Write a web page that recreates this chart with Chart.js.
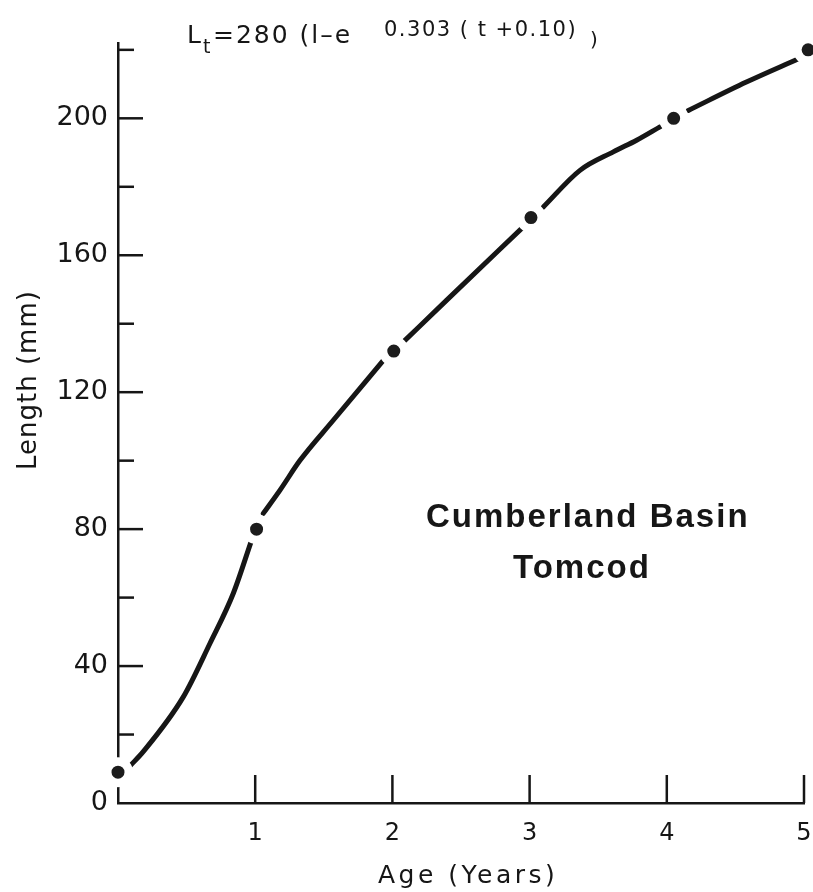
<!DOCTYPE html>
<html>
<head>
<meta charset="utf-8">
<script src="https://cdn.jsdelivr.net/npm/chart.js@4.4.1/dist/chart.umd.min.js"></script>
<style>
  html, body { margin: 0; padding: 0; background: #ffffff; }
  canvas { display: block; }
</style>
</head>
<body>
<canvas id="growth" width="813" height="892"></canvas>
<script>
// Mean length at age, Cumberland Basin tomcod
const pointAges = [0, 1.01, 2.01, 3.01, 4.05, 5.03];
const pointLengths = [9, 80, 132, 171, 200, 220];

// Fitted von Bertalanffy curve, drawn as separate strokes between the points (null = break)
const curveAges = [0.087, 0.184, 0.476, 0.67, 0.84, 0.974, null,
  1.059, 1.181, 1.327, 1.569, 1.934, null,
  2.08, 2.396, 2.954, null,
  3.1, 3.367, 3.61, 3.78, 3.95, null,
  4.157, 4.58, 4.96];
const curveLengths = [10.8, 15.0, 31, 46.6, 61.2, 76.8, null,
  84.6, 91.4, 100.1, 111.8, 129.3, null,
  134.7, 146.9, 168.3, null,
  174.1, 184.8, 190.2, 193.6, 197.5, null,
  202.3, 210.6, 217.4];

// Axis ticks
const xTickValues = [1, 2, 3, 4, 5];
const yTickValues = [0, 40, 80, 120, 160, 200];
const yMinorTickValues = [20, 60, 100, 140, 180, 220];

const ink = '#161616';

// split the traced curve into strokes at each null
const curveStrokes = [];
let current = [];
curveAges.forEach((a, i) => {
  if (a === null) { curveStrokes.push(current); current = []; }
  else current.push({ x: a, y: curveLengths[i] });
});
if (current.length) curveStrokes.push(current);

const curveDatasets = curveStrokes.map(stroke => ({
  data: stroke,
  showLine: true,
  borderColor: ink,
  borderWidth: 5,
  borderCapStyle: 'round',
  cubicInterpolationMode: 'monotone',
  pointRadius: 0,
  order: 1
}));

const pointDataset = {
  data: pointAges.map((a, i) => ({ x: a, y: pointLengths[i] })),
  showLine: false,
  pointRadius: 10.75,
  pointBorderWidth: 8.5,
  pointBackgroundColor: '#1c1c1c',
  pointBorderColor: '#ffffff',
  clip: false,
  order: 0
};

// inward tick marks on both axes
const axisMarks = {
  id: 'axisMarks',
  beforeDatasetsDraw(chart) {
    const { ctx, scales: { x, y } } = chart;
    const x0 = x.getPixelForValue(0);
    const y0 = y.getPixelForValue(0);
    ctx.save();
    ctx.strokeStyle = ink;
    ctx.lineWidth = 2.5;
    const seg = (ax, ay, bx, by) => { ctx.beginPath(); ctx.moveTo(ax, ay); ctx.lineTo(bx, by); ctx.stroke(); };
    yTickValues.forEach(v => { if (v !== 0) { const py = y.getPixelForValue(v); seg(x0, py, x0 + 25, py); } });
    yMinorTickValues.forEach(v => { const py = y.getPixelForValue(v); seg(x0, py, x0 + 16, py); });
    xTickValues.forEach(v => { const px = x.getPixelForValue(v); seg(px, y0, px, y0 - 28); });
    ctx.restore();
  }
};

// axis titles, growth equation and site label
const textLayer = {
  id: 'textLayer',
  afterDraw(chart) {
    const ctx = chart.ctx;
    const put = (str, px, py, font, spacing) => {
      ctx.font = font;
      ctx.letterSpacing = (spacing || 0) + 'px';
      ctx.fillText(str, px, py);
    };
    ctx.save();
    ctx.fillStyle = ink;
    ctx.textAlign = 'left';
    ctx.textBaseline = 'alphabetic';

    // equation
    put('L', 187, 43, '25px "DejaVu Sans"', 0);
    put('t', 203, 53, '19px "DejaVu Sans"', 0);
    put('=280 (l\u2013e', 213, 43, '25px "DejaVu Sans"', 2);
    put('0.303 ( t +0.10)', 384, 36, '21px "DejaVu Sans"', 1.5);
    put(')', 590, 46, '20px "DejaVu Sans"', 0);

    // site label
    put('Cumberland Basin', 426, 527, 'bold 33px "Liberation Sans"', 2);
    put('Tomcod', 513, 578, 'bold 33px "Liberation Sans"', 2);

    // x axis title
    put('Age (Years)', 378, 883, '25px "DejaVu Sans"', 3.5);

    // y axis title
    ctx.translate(36, 470);
    ctx.rotate(-Math.PI / 2);
    put('Length (mm)', 0, 0, '26px "DejaVu Sans"', 1);
    ctx.restore();
  }
};

new Chart(document.getElementById('growth'), {
  type: 'scatter',
  data: { datasets: [pointDataset, ...curveDatasets] },
  options: {
    responsive: false,
    animation: false,
    layout: { autoPadding: false, padding: { top: 43, right: 9, bottom: 0, left: 0 } },
    plugins: { legend: { display: false }, tooltip: { enabled: false } },
    scales: {
      x: {
        type: 'linear',
        min: 0,
        max: 5,
        afterBuildTicks: s => { s.ticks = xTickValues.map(v => ({ value: v })); },
        afterFit: s => { s.height = 89; s.paddingLeft = 0; s.paddingRight = 0; },
        grid: { display: false, drawTicks: false },
        border: { display: true, color: ink, width: 2.5 },
        ticks: { color: ink, font: { family: 'DejaVu Sans', size: 24 }, padding: 16, maxRotation: 0, autoSkip: false }
      },
      y: {
        type: 'linear',
        min: 0,
        max: 222,
        afterBuildTicks: s => { s.ticks = yTickValues.map(v => ({ value: v })); },
        afterFit: s => { s.width = 118; s.paddingTop = 0; s.paddingBottom = 0; },
        grid: { display: false, drawTicks: false },
        border: { display: true, color: ink, width: 2.5 },
        ticks: { color: ink, font: { family: 'DejaVu Sans', size: 27 }, padding: 10, autoSkip: false }
      }
    }
  },
  plugins: [axisMarks, textLayer]
});
</script>
</body>
</html>
